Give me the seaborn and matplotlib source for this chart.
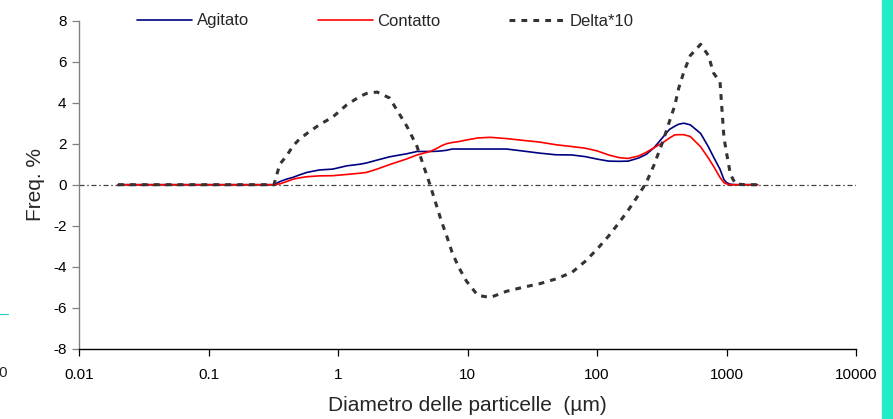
import numpy as np
import pandas as pd
import matplotlib
matplotlib.use("Agg")
import matplotlib.pyplot as plt
from matplotlib.patches import Rectangle
from matplotlib.lines import Line2D
import seaborn as sns

# particle diameter (um)
diametro = [0.02, 0.1, 0.32, 0.355, 0.40, 0.45, 0.50, 0.575, 0.72, 0.91,
            1.17, 1.48, 1.66, 2.0, 2.5, 3.4, 4.07, 5.13, 5.75, 6.3,
            6.9, 7.6, 8.5, 9.8, 12, 15, 20, 27, 36, 48,
            64, 81, 100, 123, 148, 174, 209, 240, 275, 324,
            363, 398, 427, 468, 525, 631, 724, 794, 891, 955,
            1000, 1072, 1175, 1413, 1738]

agitato = [0, 0, 0, 0.15, 0.27, 0.36, 0.47, 0.60, 0.72, 0.76,
           0.92, 1.00, 1.06, 1.20, 1.36, 1.51, 1.62, 1.62, 1.63, 1.65,
           1.68, 1.74, 1.74, 1.74, 1.74, 1.74, 1.74, 1.64, 1.54, 1.46,
           1.45, 1.37, 1.25, 1.15, 1.14, 1.15, 1.30, 1.48, 1.80, 2.33,
           2.70, 2.85, 2.95, 3.00, 2.92, 2.50, 1.85, 1.35, 0.75, 0.25,
           0.10, 0.02, 0, 0, 0]

contatto = [0, 0, 0, 0.04, 0.15, 0.27, 0.33, 0.39, 0.43, 0.44,
            0.50, 0.56, 0.60, 0.76, 0.98, 1.26, 1.45, 1.62, 1.76, 1.90,
            2.00, 2.06, 2.10, 2.18, 2.28, 2.31, 2.25, 2.16, 2.08, 1.95,
            1.86, 1.78, 1.65, 1.45, 1.32, 1.28, 1.40, 1.58, 1.80, 2.06,
            2.28, 2.43, 2.44, 2.44, 2.35, 1.85, 1.30, 0.90, 0.35, 0.10,
            0.04, 0, 0, 0, 0]

delta10 = [0, 0, 0, 1.0, 1.4, 1.9, 2.2, 2.5, 2.93, 3.3,
           3.9, 4.31, 4.45, 4.52, 4.23, 2.85, 1.87, 0.0, -1.0, -1.8,
           -2.5, -3.3, -4.0, -4.7, -5.4, -5.5, -5.2, -5.0, -4.83, -4.6,
           -4.28, -3.74, -3.15, -2.5, -1.85, -1.25, -0.5, 0.1, 0.95, 2.15,
           3.1, 3.85, 4.7, 5.5, 6.3, 6.85, 6.3, 5.45, 5.0, 2.3,
           1.55, 0.5, 0.03, 0, 0]

x_ticks = [0.01, 0.1, 1, 10, 100, 1000, 10000]
x_labels = ["0.01", "0.1", "1", "10", "100", "1000", "10000"]
y_ticks = [-8, -6, -4, -2, 0, 2, 4, 6, 8]

df = pd.DataFrame({"d": diametro, "Agitato": agitato,
                   "Contatto": contatto, "Delta*10": delta10})

sns.set_style("white")
plt.rcParams["font.family"] = ["Liberation Sans", "DejaVu Sans"]
plt.rcParams["axes.unicode_minus"] = False

fig = plt.figure(figsize=(8.93, 4.19), dpi=100)
ax = fig.add_axes([0.0885, 0.1678, 0.8701, 0.7828])

ax.axhline(0, color="#404040", lw=0.9, linestyle=(0, (4, 2.2, 1.2, 2.2)), zorder=1)

sns.lineplot(data=df, x="d", y="Agitato", ax=ax, color="#000080", lw=1.2,
             label="Agitato", sort=False)
sns.lineplot(data=df, x="d", y="Contatto", ax=ax, color="#ff0000", lw=1.2,
             label="Contatto", sort=False)
sns.lineplot(data=df, x="d", y="Delta*10", ax=ax, color="#333333", lw=2.2,
             label="Delta*10", sort=False)
ax.lines[-1].set_linestyle((0, (1.9, 2.0)))

ax.set_xscale("log")
ax.set_xlim(0.01, 10000)
ax.set_ylim(-8, 8)
ax.set_xticks(x_ticks)
ax.set_xticklabels(x_labels)
ax.minorticks_off()
ax.set_yticks(y_ticks)
ax.tick_params(axis="both", labelsize=11, length=5, width=0.9, direction="out",
               bottom=True, left=True, pad=4)
ax.tick_params(axis="y", colors="#808080", labelcolor="black")
ax.tick_params(axis="x", colors="black", pad=9)

for s in ["top", "right"]:
    ax.spines[s].set_visible(False)
ax.spines["left"].set_color("#808080")
ax.spines["left"].set_linewidth(1.0)
ax.spines["bottom"].set_color("black")
ax.spines["bottom"].set_linewidth(1.0)

ax.set_xlabel("Diametro delle particelle  (µm)", fontsize=15, labelpad=10)
ax.set_ylabel("Freq. %", fontsize=15, labelpad=6)

ax.legend(loc="center left", bbox_to_anchor=(137 / 893, 1 - 21 / 419),
          bbox_transform=fig.transFigure, ncol=3, frameon=False, fontsize=12,
          handlelength=3.3, handletextpad=0.3, columnspacing=4.1, borderpad=0,
          borderaxespad=0)

# bits of the neighbouring page left in the crop
fig.patches.append(Rectangle((882 / 893, 0), 11 / 893, 1, transform=fig.transFigure,
                             color="#22ecc8", zorder=0))
fig.lines.append(Line2D([0, 8 / 893], [1 - 314 / 419, 1 - 314 / 419],
                        transform=fig.transFigure, color="#22ccc0", lw=0.8))
fig.text(8 / 893, 1 - 373 / 419, "10000", ha="right", va="center", fontsize=11)

fig.savefig("out.png", dpi=100)
